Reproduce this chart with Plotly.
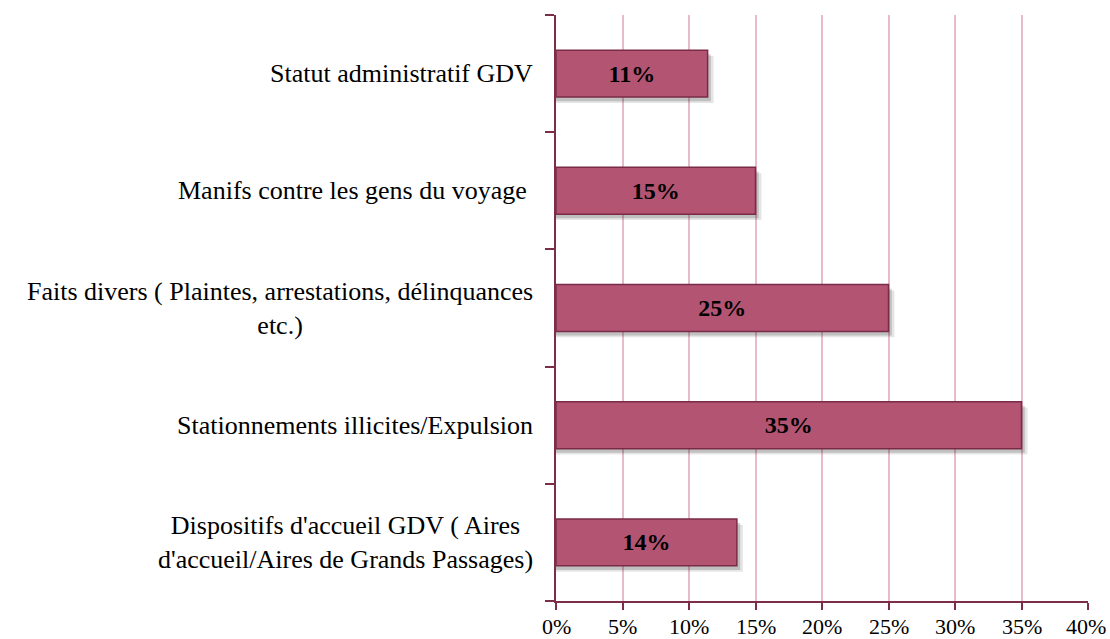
import plotly.graph_objects as go

# Categories listed bottom to top
categories = [
    "Dispositifs d'accueil GDV ( Aires<br>d'accueil/Aires de Grands Passages)",
    "Stationnements illicites/Expulsion",
    "Faits divers ( Plaintes, arrestations, délinquances<br>etc.)",
    "Manifs contre les gens du voyage ",
    "Statut administratif GDV",
]
shares = [13.6, 35.0, 25.0, 15.0, 11.4]
x_ticks = [0, 5, 10, 15, 20, 25, 30, 35, 40]

BAR = "#b35473"
EDGE = "#7a2b48"
AXIS = "#7b2d4a"
GRID = "#e6bccb"
SERIF = "'Liberation Serif'"

fig = go.Figure()

# soft drop shadow under each bar
for alpha, dx, dy in [(0.10, 0.45, 0.05), (0.16, 0.25, 0.035)]:
    fig.add_trace(go.Bar(
        y=categories, x=[v + dx for v in shares], orientation="h",
        width=0.4, offset=-0.2 - dy,
        marker=dict(color=f"rgba(0,0,0,{alpha})", line=dict(width=0)),
        hoverinfo="skip", showlegend=False,
    ))

fig.add_trace(go.Bar(
    y=categories, x=shares, orientation="h",
    width=0.4, offset=-0.2,
    marker=dict(color=BAR, line=dict(color=EDGE, width=1.5)),
    text=[f"{v:.0f}%" for v in shares],
    textposition="inside", insidetextanchor="middle",
    textfont=dict(family=SERIF, size=24, color="black", weight="bold"),
    textangle=0, constraintext="none",
    showlegend=False,
))

# category labels, centred per line
for cat in categories:
    fig.add_annotation(
        x=0, xref="paper", y=cat, yref="y",
        text=cat, showarrow=False,
        xanchor="right", yanchor="middle", align="center",
        xshift=-21,
        font=dict(family=SERIF, size=26, color="black"),
    )

# percentage labels under the x axis, set close to the tick marks
for t in x_ticks:
    fig.add_annotation(
        x=t, xref="x", y=0, yref="paper",
        text=f"{t}%", showarrow=False,
        xanchor="center", yanchor="middle", yshift=-25,
        xshift=-2 if t == x_ticks[-1] else 0,
        font=dict(family=SERIF, size=22, color="black"),
    )

fig.update_layout(
    width=1110, height=639,
    margin=dict(l=556, r=22, t=15, b=38, autoexpand=False),
    paper_bgcolor="white", plot_bgcolor="white",
    barmode="overlay", bargap=0.6,
)

fig.update_xaxes(
    range=[0, 40], tickvals=x_ticks, showticklabels=False,
    showgrid=True, gridcolor=GRID, gridwidth=1.5,
    showline=True, linecolor=AXIS, linewidth=2,
    ticks="outside", ticklen=7, tickcolor=AXIS, tickwidth=2,
    zeroline=False, fixedrange=True, automargin=False,
)
fig.update_yaxes(
    type="category", categoryorder="array", categoryarray=categories,
    range=[-0.5, 4.5],
    showticklabels=False,
    showline=True, linecolor=AXIS, linewidth=2,
    ticks="outside", tickson="boundaries", ticklen=9, tickcolor=AXIS, tickwidth=2,
    showgrid=False, zeroline=False, fixedrange=True, automargin=False,
)

fig.write_html("out.html")
